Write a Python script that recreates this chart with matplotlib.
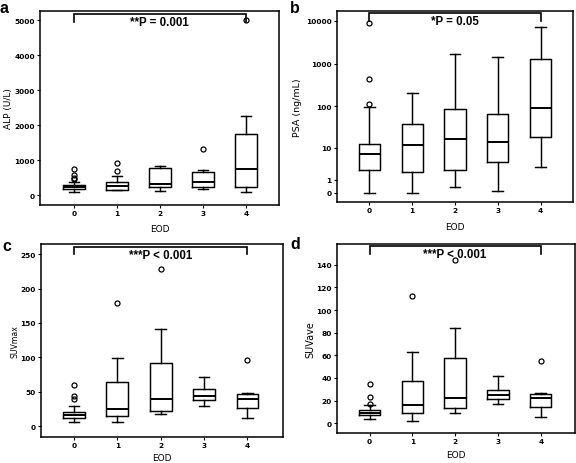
import numpy as np
import matplotlib
matplotlib.use("Agg")
import matplotlib.pyplot as plt

groups = [0, 1, 2, 3, 4]
group_labels = ["0", "1", "2", "3", "4"]

# Panel a: ALP (U/L)
alp_q1 = [191, 151, 248, 238, 238]
alp_med = [249, 266, 333, 390, 762]
alp_q3 = [294, 380, 771, 667, 1743]
alp_lo = [105, 143, 124, 190, 95]
alp_hi = [380, 551, 838, 733, 2257]
alp_fliers = [[457, 505, 591, 743], [694, 914], [], [1314], [5000]]

# Panel b: PSA (ng/mL)
psa_q1 = [2.3, 2.1, 2.4, 4.2, 18.7]
psa_med = [6.8, 11.8, 17, 13.8, 94]
psa_q3 = [12.3, 38.5, 87, 66.5, 1306]
psa_lo = [0, 0, 0.35, 0.07, 2.9]
psa_hi = [97, 211, 1647, 1428, 7244]
psa_fliers = [[112, 431, 8660], [], [], [], []]

# Panel c: SUVmax
smax_q1 = [12.6, 15, 22.3, 38.3, 26.7]
smax_med = [17, 24.8, 40.3, 44.2, 39.3]
smax_q3 = [20.9, 63.6, 91.7, 53.9, 47.6]
smax_lo = [6.3, 6.8, 18, 30.1, 12.1]
smax_hi = [29.6, 98.5, 140.8, 70.9, 49]
smax_fliers = [[39.3, 44, 59.7], [179.6], [228], [], [96.1]]

# Panel d: SUVave
save_q1 = [7.1, 8.9, 13.6, 21, 14.8]
save_med = [9.5, 15.9, 21.9, 25.1, 22.4]
save_q3 = [11.5, 37.2, 57.3, 29.5, 25.4]
save_lo = [3.5, 2.1, 9.5, 17.4, 5.9]
save_hi = [16, 62.6, 84.5, 41.9, 26.3]
save_fliers = [[17.4, 23.6, 34.3], [112.5], [144.4], [], [54.9]]

p_texts = ["**P = 0.001", "*P = 0.05", "***P < 0.001", "***P < 0.001"]
bracket_top = [5171, 14800, 260.7, 156.8]
bracket_end = [4950, 10000, 250, 149.4]

ylabels = ["ALP (U/L)", "PSA (ng/mL)", "SUVmax", "SUVave"]
yticks_list = [[0, 1000, 2000, 3000, 4000, 5000],
               [0, 1, 10, 100, 1000, 10000],
               [0, 50, 100, 150, 200, 250],
               [0, 20, 40, 60, 80, 100, 120, 140]]
ylims = [(-276, 5267), (-0.393, 16788), (-15.5, 264.6), (-8.6, 158.3)]
xlims = [(-0.79, 4.77), (-0.76, 4.76), (-0.76, 4.82), (-0.76, 4.8)]
panel_letters = ["a", "b", "c", "d"]

W, H = 576, 464
# axes boxes in pixels: left, top, right, bottom
boxes = [(40, 12, 279, 206), (337, 12, 573, 203), (41, 245, 283, 438), (337, 245, 575, 434)]
ylabel_x = [9, 297, 15, 310]
xlabel_y = [229, 228, 459, 456]
ylabel_size = [6.5, 6.8, 5.6, 6.9]
letter_pos = [(0, 13), (290, 13), (2, 251), (290, 249)]

data = [
    (alp_q1, alp_med, alp_q3, alp_lo, alp_hi, alp_fliers),
    (psa_q1, psa_med, psa_q3, psa_lo, psa_hi, psa_fliers),
    (smax_q1, smax_med, smax_q3, smax_lo, smax_hi, smax_fliers),
    (save_q1, save_med, save_q3, save_lo, save_hi, save_fliers),
]

fig = plt.figure(figsize=(W / 100, H / 100), dpi=100)

for i in range(4):
    l, t, r, b = boxes[i]
    ax = fig.add_axes([l / W, 1 - b / H, (r - l) / W, (b - t) / H])
    q1, med, q3, lo, hi, fl = data[i]
    stats = []
    for k in range(5):
        stats.append(dict(med=med[k], q1=q1[k], q3=q3[k], whislo=lo[k],
                          whishi=hi[k], fliers=fl[k]))
    if i == 1:
        ax.set_yscale('function', functions=(lambda v: np.log10(np.maximum(v + 1, 1e-9)),
                                             lambda u: 10 ** u - 1))
    ax.bxp(stats, positions=groups, widths=0.5, capwidths=0.25,
           boxprops=dict(color='black', linewidth=1.05),
           whiskerprops=dict(color='black', linewidth=1.05),
           capprops=dict(color='black', linewidth=1.05),
           medianprops=dict(color='black', linewidth=1.4),
           flierprops=dict(marker='o', markerfacecolor='none', markeredgecolor='black',
                           markersize=3.6, markeredgewidth=0.9))
    ax.set_xlim(*xlims[i])
    ax.set_ylim(*ylims[i])
    ax.set_xticks(groups)
    ax.set_xticklabels(group_labels)
    ax.set_yticks(yticks_list[i])
    ax.set_yticklabels([str(v) for v in yticks_list[i]])
    ax.minorticks_off()
    ax.tick_params(axis='both', direction='out', length=2.5, width=0.8, labelsize=5.3,
                   pad=1.2, top=False, right=False)
    for lab in ax.get_xticklabels() + ax.get_yticklabels():
        lab.set_fontweight('bold')
    for sp in ax.spines.values():
        sp.set_linewidth(1.1)
        sp.set_color('black')
    ax.set_ylabel(ylabels[i], fontsize=ylabel_size[i], va='center')
    ax.yaxis.set_label_coords((ylabel_x[i] - l) / (r - l), 0.5)
    ax.set_xlabel("EOD", fontsize=6.5, va='center')
    ax.xaxis.set_label_coords(0.5, -(xlabel_y[i] - b) / (b - t))
    # significance bracket
    ax.plot([groups[0], groups[0], groups[-1], groups[-1]],
            [bracket_end[i], bracket_top[i], bracket_top[i], bracket_end[i]],
            color='black', linewidth=1.2, clip_on=False, solid_joinstyle='miter')
    ax.annotate(p_texts[i], xy=(2, bracket_top[i]), xytext=(0, -1.5),
                textcoords='offset points', ha='center', va='top',
                fontsize=8.3, fontweight='bold', family='Liberation Sans')
    lx, ly = letter_pos[i]
    fig.text(lx / W, 1 - ly / H, panel_letters[i], fontsize=11.5, fontweight='bold',
             family='Liberation Sans', va='baseline', ha='left')

fig.savefig("out.png", dpi=100)
